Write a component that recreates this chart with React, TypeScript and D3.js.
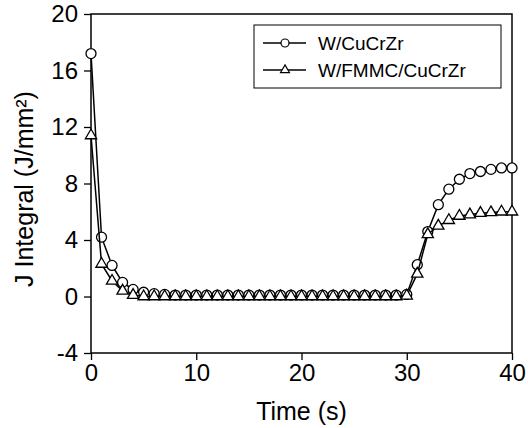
import * as d3 from "d3";
import { useEffect, useRef } from "react";

// time in seconds, one sample per second
const times = d3.range(0, 41);

// W/CuCrZr (circles)
const cucrzr = [
  17.2, 4.2, 2.2, 1.0, 0.5, 0.3, 0.2, 0.15, 0.1, 0.1,
  0.1, 0.1, 0.1, 0.1, 0.1, 0.1, 0.1, 0.1, 0.1, 0.1,
  0.1, 0.1, 0.1, 0.1, 0.1, 0.1, 0.1, 0.1, 0.1, 0.1,
  0.15, 2.25, 4.6, 6.5, 7.6, 8.3, 8.7, 8.85, 9.0, 9.1, 9.1,
];

// W/FMMC/CuCrZr (triangles)
const fmmc = [
  11.4, 2.3, 1.1, 0.4, 0.1, 0.0, 0.0, 0.0, 0.0, 0.0,
  0.0, 0.0, 0.0, 0.0, 0.0, 0.0, 0.0, 0.0, 0.0, 0.0,
  0.0, 0.0, 0.0, 0.0, 0.0, 0.0, 0.0, 0.0, 0.0, 0.0,
  0.05, 1.6, 4.4, 5.0, 5.4, 5.7, 5.8, 5.9, 5.95, 6.0, 6.0,
];

const xTicks = [0, 10, 20, 30, 40];
const yTicks = [-4, 0, 4, 8, 12, 16, 20];
const seriesNames = ["W/CuCrZr", "W/FMMC/CuCrZr"];

const App = () => {
  const ref = useRef<SVGSVGElement | null>(null);

  useEffect(() => {
    const svg = d3.select(ref.current);
    svg.selectAll("*").remove();

    const margin = { top: 14, right: 16, bottom: 75, left: 91 };
    const W = 528, H = 428;
    const width = W - margin.left - margin.right;
    const height = H - margin.top - margin.bottom;
    const font = "'Liberation Sans', Arial, sans-serif";

    const x = d3.scaleLinear().domain([0, 40]).range([0, width]);
    const y = d3.scaleLinear().domain([-4, 20]).range([height, 0]);

    const g = svg.append("g").attr("transform", `translate(${margin.left},${margin.top})`);

    // frame
    g.append("rect")
      .attr("width", width).attr("height", height)
      .attr("fill", "none").attr("stroke", "black").attr("stroke-width", 1.5);

    // x axis
    const xAxis = g.append("g")
      .attr("transform", `translate(0,${height})`)
      .call(d3.axisBottom(x).tickValues(xTicks).tickSize(7).tickPadding(4).tickFormat((d) => String(d)));
    xAxis.select(".domain").remove();
    xAxis.selectAll("line").attr("stroke", "black").attr("stroke-width", 1.3);
    xAxis.selectAll("text").attr("font-family", font).attr("font-size", 24).attr("fill", "black");

    // y axis (plain hyphen for negatives, like the original)
    const yAxis = g.append("g")
      .call(d3.axisLeft(y).tickValues(yTicks).tickSize(7).tickPadding(6).tickFormat((d) => String(d)));
    yAxis.select(".domain").remove();
    yAxis.selectAll("line").attr("stroke", "black").attr("stroke-width", 1.3);
    yAxis.selectAll("text").attr("font-family", font).attr("font-size", 24).attr("fill", "black");

    // axis titles
    svg.append("text")
      .attr("x", margin.left + width / 2).attr("y", 420)
      .attr("text-anchor", "middle")
      .attr("font-family", font).attr("font-size", 25)
      .text("Time (s)");
    svg.append("text")
      .attr("transform", `translate(33,189) rotate(-90)`)
      .attr("text-anchor", "middle")
      .attr("font-family", font).attr("font-size", 25)
      .text("J Integral (J/mm²)");

    const line = d3.line<number>()
      .x((d, i) => x(times[i]))
      .y((d) => y(d));

    const tri = d3.symbol().type(d3.symbolTriangle).size(55);
    const triSmall = d3.symbol().type(d3.symbolTriangle).size(34);

    // circle series
    g.append("path").datum(cucrzr)
      .attr("d", line).attr("fill", "none").attr("stroke", "black").attr("stroke-width", 1.5);
    g.selectAll(".c").data(cucrzr).enter().append("circle")
      .attr("cx", (d, i) => x(times[i])).attr("cy", (d) => y(d))
      .attr("r", 5).attr("fill", "white").attr("stroke", "black").attr("stroke-width", 1.3);

    // triangle series
    g.append("path").datum(fmmc)
      .attr("d", line).attr("fill", "none").attr("stroke", "black").attr("stroke-width", 1.5);
    g.selectAll(".t").data(fmmc).enter().append("path")
      .attr("d", tri)
      .attr("transform", (d, i) => `translate(${x(times[i])},${y(d)})`)
      .attr("fill", "white").attr("stroke", "black").attr("stroke-width", 1.3);

    // legend
    const lg = svg.append("g").attr("transform", "translate(254,25)");
    lg.append("rect").attr("width", 247).attr("height", 63)
      .attr("fill", "white").attr("stroke", "black").attr("stroke-width", 1);
    seriesNames.forEach((name, i) => {
      const ry = 18 + i * 27;
      lg.append("line").attr("x1", 9).attr("x2", 52).attr("y1", ry).attr("y2", ry)
        .attr("stroke", "black").attr("stroke-width", 1.3);
      if (i === 0) {
        lg.append("circle").attr("cx", 31).attr("cy", ry).attr("r", 4)
          .attr("fill", "white").attr("stroke", "black").attr("stroke-width", 1.2);
      } else {
        lg.append("path").attr("d", triSmall).attr("transform", `translate(31,${ry})`)
          .attr("fill", "white").attr("stroke", "black").attr("stroke-width", 1.2);
      }
      lg.append("text").attr("x", 64).attr("y", ry + 7)
        .attr("font-family", font).attr("font-size", 19)
        .text(name);
    });
  }, []);

  return (
    <svg ref={ref} width={528} height={428}
      style={{ position: "absolute", left: 0, top: 0, background: "white" }} />
  );
};

export default App;
